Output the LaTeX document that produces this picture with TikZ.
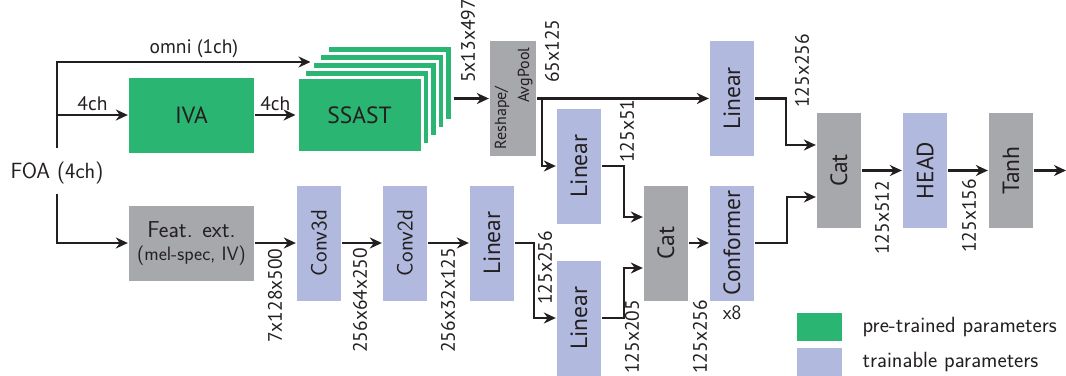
\documentclass[tikz,border=0pt]{standalone}
\usepackage{fontspec}
\usepackage{graphicx}
\usepackage{tikz}
\usetikzlibrary{arrows.meta, positioning}
\newfontfamily\myr{PT Sans}
\definecolor{pretrain}{RGB}{43,181,115}
\definecolor{trainable}{RGB}{177,185,222}
\definecolor{fixedop}{RGB}{167,168,172}
\definecolor{ink}{RGB}{35,31,32}
\newcommand{\vtxt}[1]{\rotatebox{90}{#1}}

\begin{document}
\begin{tikzpicture}[x=1pt, y=-1pt, >={Stealth[length=12pt, width=11pt]}, line width=2.3pt, ink,
  blk/.style={inner sep=0pt, text=ink, font=\myr\fontsize{23.5}{25}\selectfont},
  wide/.style={blk, minimum width=125pt, minimum height=75pt},
  tall/.style={blk, minimum width=44pt, minimum height=115pt},
  pre/.style={fill=pretrain}, train/.style={fill=trainable}, op/.style={fill=fixedop},
  lbl/.style={font=\myr\fontsize{19.5}{21}\selectfont},
  dim/.style={lbl, rotate=90, anchor=west, inner sep=0pt},
  lm/.style={font=\sffamily\fontsize{22}{24}\selectfont}]
  \useasboundingbox (0,0) rectangle (1066,375);
  % 输入
  \node (foa) [lm, inner sep=0pt] at (57,173) {FOA (4ch)};
  % 预训练分支
  \node (iva) [wide, pre] at (191.5,115) {IVA};
  \foreach \k in {4,3,2,1}
    \node (ssast\k) [wide, pre, draw=white, line width=3pt] at (359.5+7.5*\k,115-8*\k) {};
  \node (ssast) [wide, pre, draw=white, line width=3pt] at (359.5,115) {SSAST};
  \node (reshape) [tall, op, font=\myr\fontsize{16}{23}\selectfont] at (513,98.5)
    {\vtxt{\begin{tabular}{@{}l@{}}Reshape/\\\hspace{2.9em}AvgPool\end{tabular}}};
  \node (lintop) [tall, train] at (732,98.5) {\vtxt{Linear}};
  \node (linmid) [tall, train] at (579,166) {\vtxt{Linear}};
  % 特征分支
  \node (feat) [wide, op, font=\sffamily\fontsize{23}{23}\selectfont, align=center] at (191.5,243)
    {Feat. ext.\\{\fontsize{19.4}{23}\selectfont(mel-spec, IV)}};
  \node (conv3) [tall, train, font=\sffamily\fontsize{22.5}{24}\selectfont] at (319,243) {\vtxt{Conv3d}};
  \node (conv2) [tall, train, font=\sffamily\fontsize{22.5}{24}\selectfont] at (405,243) {\vtxt{Conv2d}};
  \node (linbot) [tall, train] at (492,243) {\vtxt{Linear}};
  \node (linlow) [tall, train] at (579,318) {\vtxt{Linear}};
  \node (cat1) [tall, op] at (666,243) {\vtxt{Cat}};
  \node (conf) [tall, train] at (732,243) {\vtxt{Conformer}};
  % 输出
  \node (cat2) [tall, op] at (839,170.5) {\vtxt{Cat}};
  \node (head) [tall, train] at (925,170.5) {\vtxt{HEAD}};
  \node (tanh) [tall, op] at (1011,170.5) {\vtxt{Tanh}};
  \coordinate (out) at (1066,170.5);
  % 连线
  \draw[->, shorten <=12.5pt] (foa.north) |- ([yshift=-2pt]ssast2.north west)
    node (omni) [lbl, pos=0.77, above] {omni (1ch)};
  \draw[->] (foa.north |- iva.west) -- (iva.west) node (ch1) [lbl, midway, above] {4ch};
  \draw[->] (iva) -- (ssast) node (ch2) [lbl, midway, above] {4ch};
  \draw[->] (ssast4.east |- reshape.west) -- (reshape.west);
  \draw[->] (reshape) -- (lintop);
  \draw[->] (reshape.east) ++(5,0) |- (linmid.west);
  \draw[->, shorten <=8.5pt] (foa.south) |- (feat.west);
  \draw[->] (feat) -- (conv3);
  \draw[->] (conv3) -- (conv2);
  \draw[->] (conv2) -- (linbot);
  \draw[->] (linbot.east) -- ++(19,0) |- (linlow.west);
  \draw[->] (linmid.east) -- ++(22,0) |- ([yshift=26pt]cat1.west);
  \draw[->] (linlow.east) -- ++(22,0) |- ([yshift=-25pt]cat1.west);
  \draw[->] (cat1) -- (conf);
  \draw[->] (lintop.east) -- ++(31,0) |- ([yshift=25.5pt]cat2.west);
  \draw[->] (conf.east) -- ++(32,0) |- ([yshift=-26.5pt]cat2.west);
  \draw[->] (cat2) -- (head);
  \draw[->] (head) -- (tanh);
  \draw[->] (tanh) -- (out);
  % 维度
  \node (dssast) [dim] at (468,84) {5x13x497};
  \node (dpool) [dim] at (552,84) {65x125};
  \node (dlinmid) [dim] at (627,164) {125x51};
  \node (dlintop) [dim] at (802,109) {125x256};
  \node (dfeat) [dim] at (275,344) {7x128x500};
  \node (dconv3) [dim] at (360,354) {256x64x250};
  \node (dconv2) [dim] at (448,354) {256x32x125};
  \node (dlinbot) [dim] at (545,306) {125x256};
  \node (dlinlow) [dim] at (632,375) {125x205};
  \node (dcat1) [dim] at (700,375) {125x256};
  \node (dcat2) [dim] at (882,256) {125x512};
  \node (dhead) [dim] at (969,254) {125x156};
  \node (rep) [font=\sffamily\fontsize{20.5}{22}\selectfont, inner sep=0pt] at (732,313) {x8};
  % 图例
  \node (legpre) [pre, minimum width=45pt, minimum height=28pt] at (819.5,327) {};
  \node (legtrain) [train, minimum width=45pt, minimum height=28pt] at (819.5,362) {};
  \node (legpretxt) [lm, right=15pt of legpre] {pre-trained parameters};
  \node (legtraintxt) [lm, right=15pt of legtrain] {trainable parameters};
\end{tikzpicture}
\end{document}
